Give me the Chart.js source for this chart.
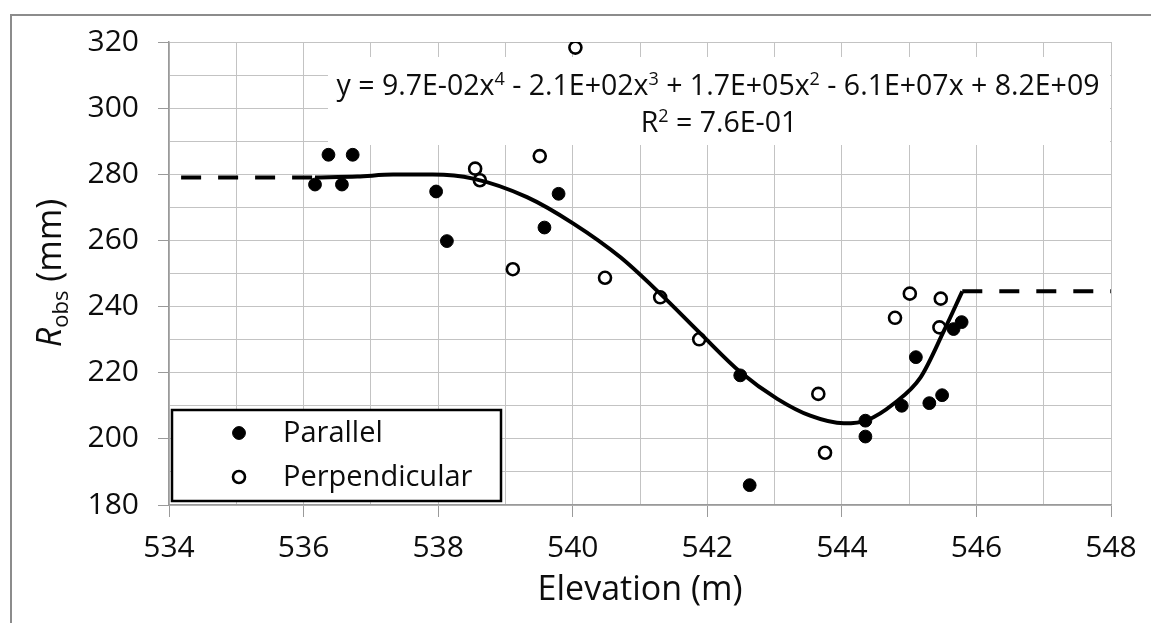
<!DOCTYPE html>
<html>
<head>
<meta charset="utf-8">
<script src="https://cdn.jsdelivr.net/npm/chart.js@4.4.1/dist/chart.umd.min.js"></script>
<style>
  html, body { margin:0; padding:0; background:#fff; }
  #wrap { position:relative; width:1151px; height:623px; overflow:hidden; }
  #frame { position:absolute; left:10px; top:14px; width:1200px; height:700px; border:2px solid #8c8c8c; }
  canvas { position:absolute; left:0; top:0; }
</style>
</head>
<body>
<div id="wrap">
  <div id="frame"></div>
  <canvas id="chart" width="1151" height="623"></canvas>
</div>
<script>
// Parallel (filled) points
const parallelX = [536.17, 536.57, 536.37, 536.73, 537.97, 538.13, 539.58, 539.79, 542.49, 542.63, 544.35, 544.35, 544.89, 545.10, 545.30, 545.49, 545.66, 545.78];
const parallelY = [276.9, 276.9, 285.9, 285.9, 274.8, 259.8, 263.9, 274.1, 219.2, 186.0, 205.5, 200.7, 210.0, 224.7, 210.8, 213.2, 233.2, 235.3];

// Perpendicular (open) points
const perpX = [538.55, 538.62, 539.11, 539.51, 540.04, 540.48, 541.30, 541.88, 543.65, 543.75, 544.79, 545.01, 545.45, 545.47];
const perpY = [281.7, 278.2, 251.3, 285.5, 318.3, 248.7, 242.8, 230.1, 213.6, 195.8, 236.6, 243.9, 233.7, 242.4];

// polynomial trend
const trendX = [536.17, 536.8, 537.33, 537.92, 538.52, 539.32, 540.01, 540.71, 541.30, 541.90, 542.49, 543.04, 543.53, 544.03, 544.38, 544.77, 545.17, 545.52, 545.79];
const trendY = [279.0, 279.3, 279.9, 279.9, 278.7, 273.1, 265.1, 254.9, 243.9, 231.8, 220.2, 212.1, 207.0, 204.7, 205.7, 210.6, 218.6, 232.8, 244.6];

// dashed extensions
const leftDashX  = [534.18, 536.17];
const leftDashY  = [279.0, 279.0];
const rightDashX = [545.79, 548.0];
const rightDashY = [244.6, 244.6];

const eqParts = [['y = 9.7E-02x', false], ['4', true], [' - 2.1E+02x', false], ['3', true], [' + 1.7E+05x', false], ['2', true], [' - 6.1E+07x + 8.2E+09', false]];
const r2Parts = [['R', false], ['2', true], [' = 7.6E-01', false]];

const FONT = "'Open Sans', sans-serif";
const TXT = '#0d0d0d';
const GRID = '#c3c3c3';
const AXIS = '#9a9a9a';

const pts = (xs, ys) => xs.map((x, i) => ({ x, y: ys[i] }));

function drawRich(ctx, parts, cx, y, fs) {
  let w = 0;
  parts.forEach(([t, sup]) => {
    ctx.font = `${sup ? Math.round(fs*0.62) : fs}px ${FONT}`;
    w += ctx.measureText(t).width;
  });
  let x = cx - w/2;
  parts.forEach(([t, sup]) => {
    ctx.font = `${sup ? Math.round(fs*0.62) : fs}px ${FONT}`;
    ctx.fillText(t, x, sup ? y - fs*0.36 : y);
    x += ctx.measureText(t).width;
  });
}

const extras = {
  id: 'extras',
  beforeDatasetsDraw(chart) {
    const ctx = chart.ctx;
    ctx.save();
    ctx.fillStyle = '#fff';
    ctx.fillRect(328, 57, 782, 88);
    ctx.restore();
  },
  afterDraw(chart) {
    const ctx = chart.ctx;
    ctx.save();
    ctx.fillStyle = TXT;
    ctx.textBaseline = 'alphabetic';
    ctx.textAlign = 'left';
    drawRich(ctx, eqParts, 718, 95, 28.5);
    drawRich(ctx, r2Parts, 719, 132, 28.5);

    // y axis title R_obs (mm)
    ctx.translate(49, 273);
    ctx.rotate(-Math.PI/2);
    const fs = 34;
    const segs = [['R', `italic ${fs}px ${FONT}`, 0], ['obs', `${Math.round(fs*0.66)}px ${FONT}`, fs*0.2], [' (mm)', `${fs}px ${FONT}`, 0]];
    let w = 0;
    segs.forEach(([t, f]) => { ctx.font = f; w += ctx.measureText(t).width; });
    let x = -w/2;
    segs.forEach(([t, f, dy]) => { ctx.font = f; ctx.fillText(t, x, fs*0.36 + dy); x += ctx.measureText(t).width; });
    ctx.restore();

    // legend box
    ctx.save();
    ctx.fillStyle = '#fff';
    ctx.fillRect(172, 410, 329, 91);
    ctx.strokeStyle = '#000';
    ctx.lineWidth = 2.5;
    ctx.strokeRect(172, 410, 329, 91);
    const rows = [[chart.data.datasets[0], 433], [chart.data.datasets[1], 477]];
    rows.forEach(([ds, y]) => {
      ctx.beginPath();
      ctx.arc(239, y, ds.pointRadius, 0, Math.PI*2);
      ctx.fillStyle = ds.backgroundColor;
      ctx.fill();
      ctx.lineWidth = ds.borderWidth;
      ctx.strokeStyle = ds.borderColor;
      ctx.stroke();
      ctx.fillStyle = TXT;
      ctx.font = `29px ${FONT}`;
      ctx.textBaseline = 'middle';
      ctx.fillText(ds.label, 283, y + 1);
    });
    ctx.restore();
  }
};

new Chart(document.getElementById('chart'), {
  type: 'scatter',
  data: {
    datasets: [
      { label: 'Parallel', data: pts(parallelX, parallelY), backgroundColor: '#000', borderColor: '#000', borderWidth: 1, pointRadius: 6.4, order: 2 },
      { label: 'Perpendicular', data: pts(perpX, perpY), backgroundColor: '#fff', borderColor: '#000', borderWidth: 2.6, pointRadius: 6, order: 2 },
      { label: 'trend', data: pts(trendX, trendY), showLine: true, borderColor: '#000', borderWidth: 4, pointRadius: 0, cubicInterpolationMode: 'monotone', order: 1 },
      { label: 'left', data: pts(leftDashX, leftDashY), showLine: true, borderColor: '#000', borderWidth: 4, borderDash: [20, 17], pointRadius: 0, order: 1 },
      { label: 'right', data: pts(rightDashX, rightDashY), showLine: true, borderColor: '#000', borderWidth: 4, borderDash: [20, 17], pointRadius: 0, order: 1 }
    ]
  },
  options: {
    responsive: false,
    animation: false,
    layout: { padding: { left: 0, top: 42, right: 40, bottom: 0 } },
    plugins: { legend: { display: false }, tooltip: { enabled: false } },
    scales: {
      x: {
        type: 'linear', min: 534, max: 548,
        afterFit(s) { s.height = 118; },
        ticks: { stepSize: 1, autoSkip: false, maxRotation: 0, padding: 13, color: TXT, font: { family: FONT, size: 30 },
                 callback: v => (v % 2 === 0 ? v : '') },
        grid: { color: GRID, tickLength: 12, tickColor: c => (c.tick && c.tick.value % 2 === 0 ? AXIS : 'rgba(0,0,0,0)') },
        border: { color: AXIS, width: 1.5 },
        title: { display: true, text: 'Elevation (m)', color: TXT, font: { family: FONT, size: 34 }, padding: { top: 0, bottom: 12 } }
      },
      y: {
        min: 180, max: 320,
        afterFit(s) { s.width = 169; },
        ticks: { stepSize: 10, autoSkip: false, padding: 19, color: TXT, font: { family: FONT, size: 30 },
                 callback: v => (v % 20 === 0 ? v : '') },
        grid: { color: GRID, tickLength: 11, tickColor: c => (c.tick && c.tick.value % 20 === 0 ? AXIS : 'rgba(0,0,0,0)') },
        border: { color: AXIS, width: 1.5 }
      }
    }
  },
  plugins: [extras]
});
</script>
</body>
</html>
